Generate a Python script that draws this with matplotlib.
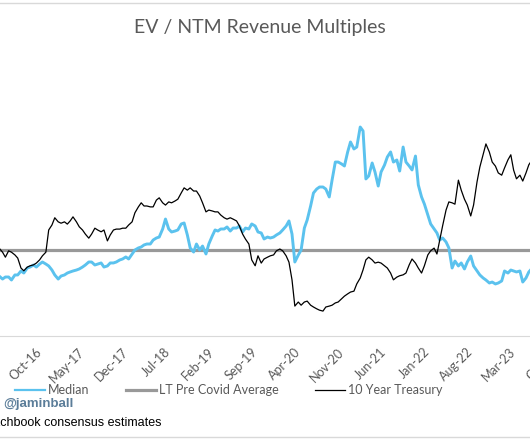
import matplotlib.pyplot as plt
from matplotlib.lines import Line2D
import pandas as pd

plt.rcParams['font.family'] = ['Lato', 'DejaVu Sans']

# DATA (semi-monthly, 1st & 15th, starting 2016-03-15) -----------------
treasury_10y = [
    1.93,
    1.84, 1.73, 1.87, 1.84, 1.78, 1.71, 1.49, 1.43, 1.51, 1.54, 1.56, 1.60,          # Apr-Sep 16
    1.67, 1.76, 1.84, 2.33, 2.44, 2.60,                                              # Oct-Dec 16
    2.51, 2.48, 2.51, 2.46, 2.53, 2.62, 2.51, 2.40, 2.33, 2.24, 2.15, 2.24,          # Jan-Jun 17
    2.37, 2.33, 2.29, 2.33, 2.09, 2.22, 2.33, 2.35, 2.35, 2.37, 2.37, 2.44,          # Jul-Dec 17
    2.51, 2.71, 2.84, 2.93, 2.86, 2.86, 2.84, 2.84, 2.99, 3.04, 2.93, 2.88,          # Jan-Jun 18
    2.95, 2.93, 2.97, 3.01, 3.15, 3.26, 3.21, 3.26, 3.19, 3.19, 3.08, 2.93,          # Jul-Dec 18
    2.73, 2.77, 2.75, 2.73, 2.73, 2.66, 2.60, 2.57, 2.60, 2.57, 2.53, 2.42,          # Jan-Jun 19
    2.24, 2.13, 2.02, 1.67, 1.54, 1.76, 1.60, 1.69, 1.73, 1.76, 1.78, 1.87,          # Jul-Dec 19
    1.91, 1.87, 1.76, 1.62, 1.23, 0.65, 0.74, 0.67, 0.74, 0.76, 0.67, 0.63,          # Jan-Jun 20
    0.59, 0.56, 0.54, 0.63, 0.65, 0.67, 0.72, 0.74, 0.81, 0.87, 0.92, 0.96,          # Jul-Dec 20
    0.98, 1.14, 1.27, 1.45, 1.67, 1.73, 1.67, 1.60, 1.62, 1.60, 1.54, 1.49,          # Jan-Jun 21
    1.38, 1.23, 1.29, 1.32, 1.34, 1.38, 1.56, 1.69, 1.60, 1.49, 1.38, 1.54,          # Jul-Dec 21
    1.78, 1.87, 1.93, 1.80, 2.11, 2.42, 2.77, 2.95, 2.93, 2.90, 3.43, 3.21,          # Jan-Jun 22
    3.01, 2.88, 2.64, 2.88, 3.39, 3.72, 3.99, 4.23, 4.05, 3.83, 3.74, 3.59,          # Jul-Dec 22
    3.54, 3.70, 3.88, 3.99, 3.65, 3.46, 3.54, 3.41, 3.59, 3.77,                      # Jan-May 23
    3.88,
]

median_multiple = [
    5.83,
    5.58, 5.75, 5.75, 5.50, 5.92, 5.92, 6.25, 6.08, 6.50, 6.58, 6.75, 6.58,
    6.83, 7.00, 6.83, 6.67, 6.33, 5.92,
    5.58, 5.83, 5.92, 6.08, 6.17, 6.25, 6.33, 6.42, 6.58, 6.75, 7.00, 7.00,
    6.75, 6.83, 6.92, 6.58, 6.67, 6.92, 6.92, 7.00, 7.17, 7.25, 7.42, 7.25,
    7.67, 8.00, 8.17, 8.25, 8.42, 8.50, 8.50, 8.83, 9.00, 9.08, 9.75, 10.58,
    9.75, 9.50, 9.58, 9.67, 10.17, 10.25, 9.25, 8.17, 7.83, 8.50, 8.00, 8.33,
    7.67, 8.50, 9.17, 9.67, 9.58, 9.75, 9.75, 9.92, 9.58, 9.83, 9.83, 10.00,
    9.50, 9.83, 9.75, 10.17, 10.00, 9.50, 9.42, 8.92, 9.08, 9.00, 9.08, 9.25,
    9.42, 9.67, 10.00, 10.42, 9.33, 7.00, 7.58, 8.00, 9.83, 10.50, 11.67, 12.75,
    13.08, 13.25, 13.25, 13.08, 12.42, 13.83, 15.33, 15.33, 15.17, 15.00, 16.17, 17.00,
    16.42, 16.58, 18.25, 17.92, 13.92, 14.17, 15.25, 14.50, 13.33, 14.50, 15.08, 15.75,
    16.17, 15.33, 15.50, 14.58, 16.58, 15.33, 15.00, 14.67, 15.83, 13.42, 12.42, 11.83,
    10.92, 10.17, 9.75, 9.42, 8.83, 9.00, 8.67, 8.17, 6.50, 7.08, 6.67, 6.92,
    6.42, 7.00, 7.50, 6.67, 6.25, 5.92, 5.67, 5.50, 5.25, 5.33, 5.17, 5.25,
    5.42, 6.25, 6.08, 6.33, 6.25, 6.17, 6.25, 5.33, 5.67, 6.17,
    6.50,
]

lt_precovid_avg = 8.0

tick_months = pd.date_range('2016-03-01', '2023-10-01', freq='7MS')
tick_labels = [d.strftime('%b-%y') for d in tick_months]

series_names = ['Median', 'LT Pre Covid Average', '10 Year Treasury']
#------------------------------------------------------------------------

dates_t = pd.date_range('2016-03-15', periods=len(treasury_10y), freq='SMS')
dates_m = pd.date_range('2016-03-15', periods=len(median_multiple), freq='SMS')

blue = '#5bc2ee'
grey = '#999999'
txt = '#595959'

fig = plt.figure(figsize=(5.3, 4.42), dpi=100)
ax = fig.add_axes([-10/530, 106/442, 570/530, 296/442])

l_avg = ax.axhline(lt_precovid_avg, color=grey, lw=2.3, zorder=1)
l_med, = ax.plot(dates_m, median_multiple, color=blue, lw=2.1, zorder=2)
ax.set_ylim(0.833, 25.5)
ax.set_xlim(pd.Timestamp('2016-01-30'), pd.Timestamp('2023-10-16'))

ax2 = ax.twinx()
l_tsy, = ax2.plot(dates_t, treasury_10y, color='black', lw=0.9)
ax2.set_ylim(-0.01, 6.524)

for a in (ax, ax2):
    for s in a.spines.values():
        s.set_visible(False)
    a.set_yticks([])
ax.spines['bottom'].set_visible(True)
ax.spines['bottom'].set_color('#d9d9d9')

ax.set_xticks(tick_months)
ax.set_xticklabels(tick_labels, rotation=45, ha='right', va='center',
                   rotation_mode='anchor', color=txt, fontsize=9)
ax.tick_params(axis='x', length=0, pad=10)

fig.text(259.5/530, 1-28/442, 'EV / NTM Revenue Multiples', ha='center', va='center',
         fontsize=14, color=txt)

leg = fig.legend([Line2D([], [], color=blue, lw=1.6),
                  Line2D([], [], color=grey, lw=2.3),
                  Line2D([], [], color='black', lw=0.9)],
                 series_names, loc='center left', bbox_to_anchor=(15/530, 1-390/442),
                 ncol=3, frameon=False, fontsize=9, handlelength=2.4, handletextpad=0.25,
                 columnspacing=2.9, borderpad=0, borderaxespad=0)
for t in leg.get_texts():
    t.set_color(txt)

fig.text(3/530, 1-404/442, '@jaminball', fontfamily='Liberation Sans', fontweight='bold',
         fontsize=9.5, color='#5b7d99', va='center')
fig.text(-60.7/530, 1-423/442, 'Source: Pitchbook consensus estimates',
         fontfamily='Liberation Sans', fontsize=9, color='black', va='center')

# frame lines of the screenshot
fig.add_artist(Line2D([0, 1], [1-3/442]*2, color='#d9d9d9', lw=1, transform=fig.transFigure))
fig.add_artist(Line2D([0, 1], [1-437/442]*2, color='#d9d9d9', lw=1, transform=fig.transFigure))

fig.savefig('out.png', dpi=100)
